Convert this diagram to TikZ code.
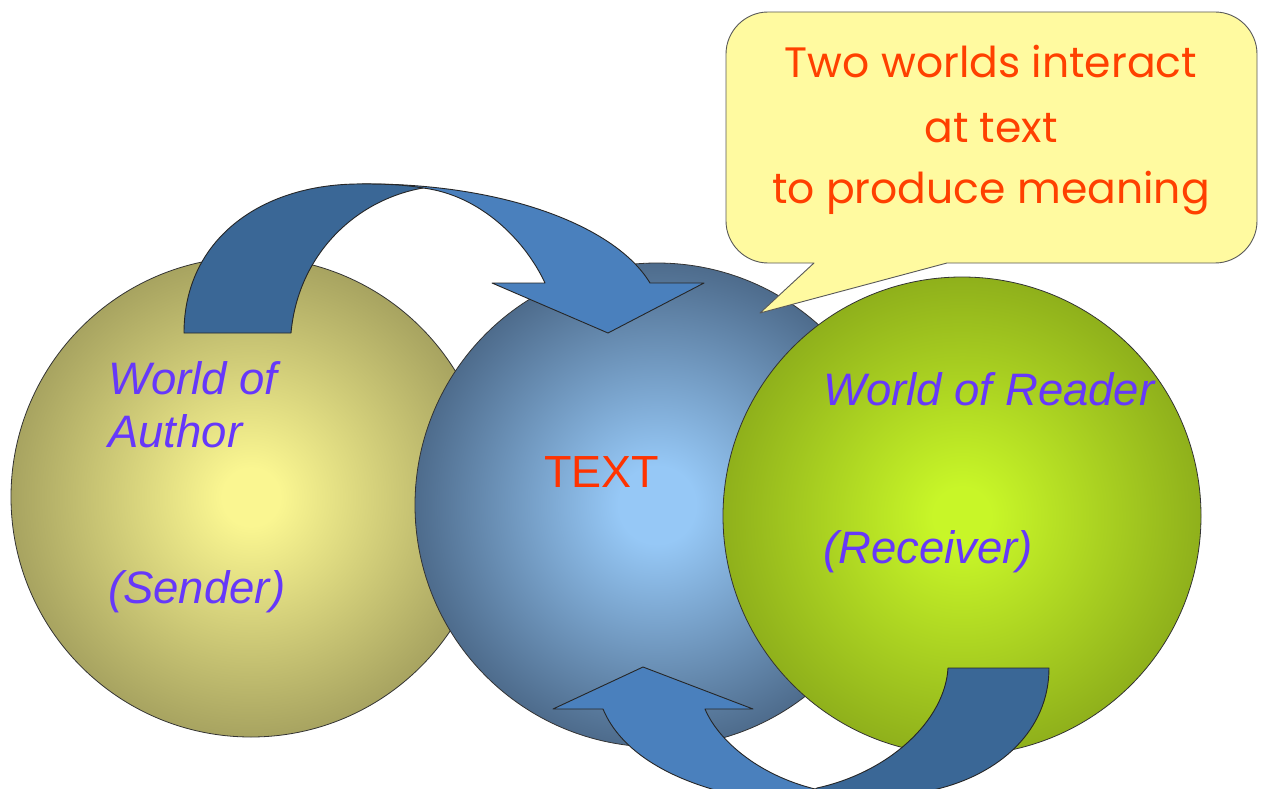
\documentclass[tikz,border=0pt]{standalone}
\usepackage{fontspec}
\setmainfont{Liberation Sans}
\newfontfamily\callfont{Poppins}
\definecolor{Lin}{RGB}{250,246,145}
\definecolor{Lout}{RGB}{160,156,92}
\definecolor{Min}{RGB}{150,200,246}
\definecolor{Mout}{RGB}{64,90,120}
\definecolor{Rin}{RGB}{200,246,40}
\definecolor{Rout}{RGB}{138,170,26}
\definecolor{arrL}{RGB}{74,128,189}
\definecolor{arrD}{RGB}{58,103,150}
\definecolor{callY}{RGB}{255,250,160}
\definecolor{callR}{RGB}{255,64,0}
\definecolor{labcol}{RGB}{102,56,250}
\definecolor{textR}{RGB}{255,51,0}
\pgfdeclareradialshading{ballL}{\pgfpoint{0bp}{0bp}}{color(0bp)=(Lin); color(3bp)=(Lin); color(27bp)=(Lout); color(50bp)=(Lout)}
\pgfdeclareradialshading{ballM}{\pgfpoint{0bp}{0bp}}{color(0bp)=(Min); color(4bp)=(Min); color(29bp)=(Mout); color(50bp)=(Mout)}
\pgfdeclareradialshading{ballR}{\pgfpoint{0bp}{0bp}}{color(0bp)=(Rin); color(3bp)=(Rin); color(27bp)=(Rout); color(50bp)=(Rout)}
\begin{document}
\begin{tikzpicture}[x=1pt,y=-1pt,
  ball/.style={circle, draw=black!80, line width=0.8pt, inner sep=0pt, outer sep=0pt},
  lab/.style={anchor=base west, inner sep=0pt, text=labcol, font=\fontsize{45.5}{53}\selectfont\itshape},
  arrlight/.style={fill=arrL, draw=black!85, line width=0.9pt, line join=round},
  arrdark/.style={fill=arrD, draw=black!85, line width=0.9pt, line join=round},
  callout/.style={fill=callY, draw=black!65, line width=0.9pt, line join=round},
  ctext/.style={anchor=base, inner sep=0pt, text=callR, font=\callfont\fontsize{42.5}{50}\selectfont}]
\useasboundingbox (0,0) rectangle (1264,789);
\fill[white] (0,0) rectangle (1264,789);
\clip (0,0) rectangle (1264,789);
% circles
\node[ball, shading=ballL, minimum size=480pt] (author) at (251,497) {};
\node[ball, shading=ballM, minimum size=484pt] (textball) at (657,505) {};
\node[ball, shading=ballR, minimum size=478pt] (reader) at (962,516) {};
% top arrow
\path[arrlight] (357,184) .. controls (500,182) and (615,225) .. (650,283) -- (704,283) -- (608,333) -- (492,283) -- (545,283) .. controls (525,240) and (480,195) .. (423,188) -- cycle;
\path[arrdark] (184,333) -- (291,333) .. controls (298,255) and (355,200) .. (423,188) .. controls (400,184) and (380,184) .. (357,184) .. controls (260,185) and (184,240) .. (184,333) -- cycle;
% bottom arrow
\path[arrlight] (603,709) -- (553,709) -- (643,667) -- (753,709) -- (705,709) .. controls (718,740) and (758,775) .. (815,789) -- (830,805) -- (760,800) .. controls (670,785) and (620,750) .. (603,709) -- cycle;
\path[arrdark] (948,668) -- (1049,668) .. controls (1049,730) and (1000,775) .. (933,790) -- (933,805) -- (790,805) -- (817,788) .. controls (890,772) and (945,720) .. (948,668) -- cycle;
% callout
\path[callout] (814,263) -- (760,313) -- (947,263) -- (1215,263) .. controls (1238,263) and (1257,244) .. (1257,221) -- (1257,54) .. controls (1257,31) and (1238,12) .. (1215,12) -- (768,12) .. controls (745,12) and (726,31) .. (726,54) -- (726,221) .. controls (726,244) and (745,263) .. (768,263) -- cycle;
\node[ctext] (cl1) at (991,78) {Two worlds interact};
\node[ctext] (cl2) at (991,143) {at text};
\node[ctext] (cl3) at (991,204) {to produce meaning};
% labels
\node[lab] (wa1) at (108,394) {World of};
\node[lab] (wa2) at (108,447) {Author};
\node[lab] (snd) at (108,603) {(Sender)};
\node[lab] (wr) at (823,405) {World of Reader};
\node[lab] (rcv) at (823,563) {(Receiver)};
\node[anchor=base west, inner sep=0pt, text=textR, font=\fontsize{45}{54}\selectfont] (txt) at (544,487) {TEXT};
\end{tikzpicture}
\end{document}
